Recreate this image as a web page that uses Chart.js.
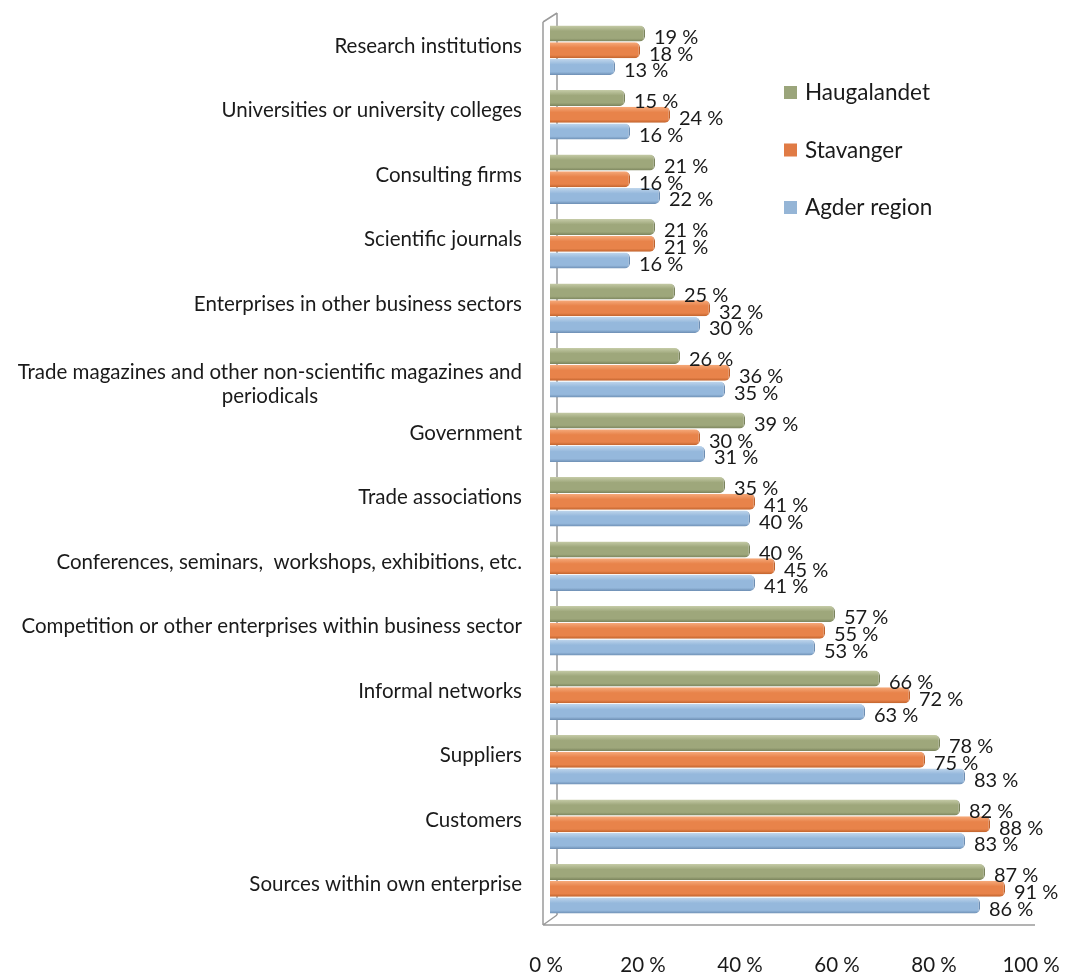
<!DOCTYPE html>
<html>
<head>
<meta charset="utf-8">
<script src="https://cdn.jsdelivr.net/npm/chart.js@4/dist/chart.umd.min.js"></script>
<style>
html,body{margin:0;padding:0;background:#fff;}
#wrap{width:1074px;height:976px;position:relative;}
</style>
</head>
<body>
<div id="wrap"><canvas id="c" width="1074" height="976"></canvas></div>
<script>
const CATEGORIES = [
  "Research institutions",
  "Universities or university colleges",
  "Consulting firms",
  "Scientific journals",
  "Enterprises in other business sectors",
  ["Trade magazines and other non-scientific magazines and", "periodicals"],
  "Government",
  "Trade associations",
  "Conferences, seminars,  workshops, exhibitions, etc.",
  "Competition or other enterprises within business sector",
  "Informal networks",
  "Suppliers",
  "Customers",
  "Sources within own enterprise"
];
const SERIES_NAMES = ["Haugalandet", "Stavanger", "Agder region"];
const HAUGALANDET = [19, 15, 21, 21, 25, 26, 39, 35, 40, 57, 66, 78, 82, 87];
const STAVANGER   = [18, 24, 16, 21, 32, 36, 30, 41, 45, 55, 72, 75, 88, 91];
const AGDER       = [13, 16, 22, 16, 30, 35, 31, 40, 41, 53, 63, 83, 83, 86];
const TICKS = [0, 20, 40, 60, 80, 100];

const BASE  = ["#9ea77b", "#e8834a", "#95b8dc"];
const LIGHT = ["#c6cca8", "#f6ab7c", "#c0d6ec"];
const DARK  = ["#7a835c", "#bf622c", "#6c8db2"];
const LEGEND_COLORS = ["#9ba57b", "#e07b45", "#95b5d6"];

const FONT = "Lato, 'Open Sans', sans-serif";
const TEXT = "#1a1a1a";

function grad(ctx, i) {
  const chart = ctx.chart;
  const meta = chart.getDatasetMeta(ctx.datasetIndex);
  const el = meta && meta.data[ctx.dataIndex];
  if (!el || el.y == null || isNaN(el.y) || !el.height) return BASE[i];
  const top = el.y - el.height / 2, bot = el.y + el.height / 2;
  const g = chart.ctx.createLinearGradient(0, top, 0, bot);
  g.addColorStop(0, LIGHT[i]);
  g.addColorStop(0.35, BASE[i]);
  g.addColorStop(0.8, BASE[i]);
  g.addColorStop(1, DARK[i]);
  return g;
}

const seriesData = [HAUGALANDET, STAVANGER, AGDER];
const datasets = seriesData.map((d, i) => ({
  label: SERIES_NAMES[i],
  data: d,
  backgroundColor: (ctx) => grad(ctx, i),
  borderColor: DARK[i],
  borderWidth: {top: 0, bottom: 0, left: 0, right: 1.5},
  borderSkipped: 'start',
  borderRadius: {topRight: 5, bottomRight: 5, topLeft: 0, bottomLeft: 0},
  categoryPercentage: 0.78,
  barPercentage: 0.96,
  xAxisID: 'x',
  yAxisID: 'y'
}));

const framePlugin = {
  id: 'frame',
  beforeDatasetsDraw(chart) {
    const a = chart.chartArea, c = chart.ctx;
    c.save();
    c.strokeStyle = '#9a9a9a';
    c.lineWidth = 1.5;
    c.beginPath();
    c.moveTo(a.left + 7, a.top - 5);
    c.lineTo(a.left + 7, a.bottom - 6);
    c.moveTo(a.left - 7, a.top + 4);
    c.lineTo(a.left - 7, a.bottom + 4);
    c.moveTo(a.left - 7, a.top + 4);
    c.lineTo(a.left + 7, a.top - 5);
    c.moveTo(a.left - 7, a.bottom + 4);
    c.lineTo(a.left + 7, a.bottom - 6);
    c.moveTo(a.left - 7, a.bottom + 4);
    c.lineTo(a.right - 15, a.bottom + 4);
    c.stroke();
    c.restore();
  }
};

const labelsPlugin = {
  id: 'labels',
  afterDatasetsDraw(chart) {
    const c = chart.ctx;
    c.save();
    c.fillStyle = TEXT;
    c.font = "20px " + FONT;
    c.textAlign = 'left';
    c.textBaseline = 'middle';
    chart.data.datasets.forEach((ds, di) => {
      const meta = chart.getDatasetMeta(di);
      meta.data.forEach((el, i) => {
        c.fillText(ds.data[i] + ' %', el.x + 9, el.y + 4);
      });
    });
    const ys = chart.scales.y;
    c.font = "20.5px " + FONT;
    const rightX = chart.chartArea.left - 28;
    chart.data.labels.forEach((lab, i) => {
      const yc = ys.getPixelForValue(i) - 4;
      if (Array.isArray(lab)) {
        const lh = 24;
        const maxW = Math.max(...lab.map(s => c.measureText(s).width));
        c.textAlign = 'center';
        lab.forEach((s, k) => {
          c.fillText(s, rightX - maxW / 2, yc + 4 + k * lh);
        });
      } else {
        c.textAlign = 'right';
        c.fillText(lab, rightX, yc);
      }
    });
    c.font = "22.5px " + FONT;
    c.textAlign = 'left';
    const lx = 784, ly0 = 92, step = 57.5;
    chart.data.datasets.forEach((ds, di) => {
      const y = ly0 + di * step;
      c.fillStyle = LEGEND_COLORS[di];
      c.fillRect(lx, y - 6, 13, 13);
      c.fillStyle = TEXT;
      c.fillText(ds.label, lx + 21, y + 1);
    });
    c.restore();
  }
};

const chart = new Chart(document.getElementById('c'), {
  type: 'bar',
  data: { labels: CATEGORIES, datasets },
  options: {
    indexAxis: 'y',
    responsive: false,
    animation: false,
    layout: { padding: { left: 550, right: 24, top: 18, bottom: 0 } },
    plugins: { legend: { display: false }, tooltip: { enabled: false } },
    scales: {
      y: { display: false, offset: true },
      x: { display: false, min: 0, max: 100 },
      x2: {
        type: 'linear',
        position: 'bottom',
        axis: 'x',
        min: 0.82,
        max: 103.9,
        grid: { display: false, drawTicks: false },
        border: { display: false },
        afterBuildTicks(scale) { scale.ticks = TICKS.map(v => ({ value: v })); },
        afterFit(scale) { scale.height = 55; scale.paddingLeft = 0; scale.paddingRight = 0; },
        ticks: {
          padding: 32,
          color: TEXT,
          font: { size: 20.5, family: FONT },
          callback: (v) => v + ' %'
        }
      }
    }
  },
  plugins: [framePlugin, labelsPlugin]
});
chart.update('none');
</script>
</body>
</html>
